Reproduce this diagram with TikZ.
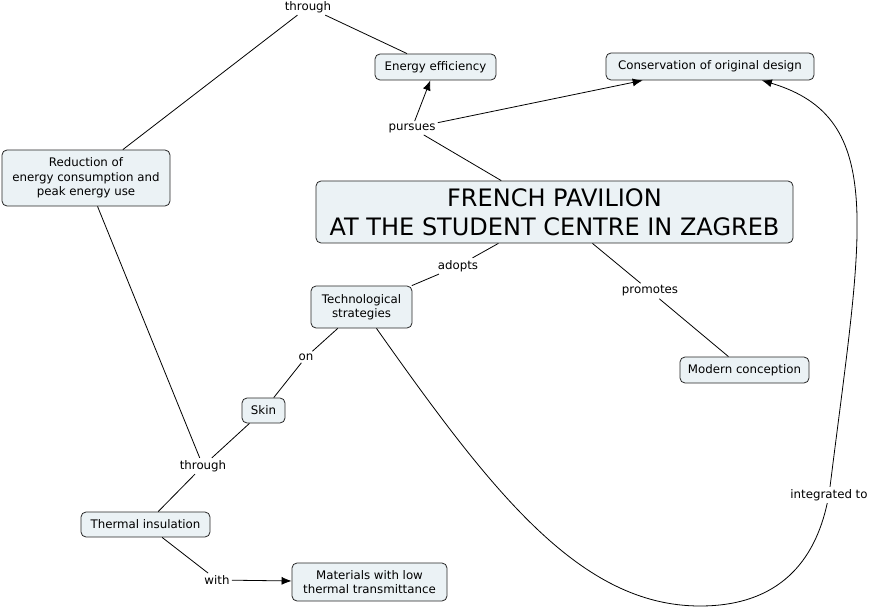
\documentclass[tikz,border=0pt]{standalone}
\usepackage{fontspec}
\setmainfont{DejaVu Sans}
\usepackage{xcolor}
\usetikzlibrary{arrows.meta}
\definecolor{boxfill}{RGB}{235,242,245}
\tikzset{
  concept/.style={draw=black!85,fill=boxfill,rounded corners=5pt,align=center,
    font=\fontsize{11.8}{14.5}\selectfont,inner sep=3pt},
  link/.style={font=\fontsize{11.8}{13}\selectfont,inner sep=2pt},
  title/.style={concept,font=\fontsize{24}{29}\selectfont}
}

\begin{document}
\begin{tikzpicture}[x=1pt,y=-1pt,>={Latex[length=10pt,width=8pt]},line width=0.8pt]
\useasboundingbox (0,0) rectangle (871,607);
\node[title,minimum width=477pt,minimum height=62pt] (pav) at (554.5,212) {FRENCH PAVILION\\AT THE STUDENT CENTRE IN ZAGREB};
\node[concept,minimum width=121pt,minimum height=26pt] (eff) at (435.5,67) {Energy efficiency};
\node[concept,minimum width=208pt,minimum height=27pt] (cons) at (710,66.5) {Conservation of original design};
\node[concept,minimum width=168pt,minimum height=56pt] (red) at (86,178) {Reduction of\\energy consumption and\\peak energy use};
\node[concept,minimum width=101pt,minimum height=42pt] (tech) at (361.5,307) {Technological\\strategies};
\node[concept,minimum width=129pt,minimum height=26pt] (mod) at (744.5,370) {Modern conception};
\node[concept,minimum width=43pt,minimum height=25pt] (skin) at (263.5,410.5) {Skin};
\node[concept,minimum width=129pt,minimum height=25pt] (therm) at (145.5,524.5) {Thermal insulation};
\node[concept,minimum width=155pt,minimum height=38pt] (mat) at (369.5,582) {Materials with low\\thermal transmittance};
% linking phrases
\node[link] (thr1) at (308,7) {through};
\node[link] (pur) at (412,128) {pursues};
\node[link] (ado) at (458,266) {adopts};
\node[link] (pro) at (650,291) {promotes};
\node[link] (on) at (306,357) {on};
\node[link] (thr2) at (203,466) {through};
\node[link] (with) at (217,580) {with};
\node[link] (integ) at (829,495) {integrated to};
\draw (red) -- (thr1); \draw (thr1) -- (eff);
\draw (pav) -- (pur); \draw[->] (pur) -- (eff); \draw[->] (pur) -- (cons);
\draw (pav) -- (ado); \draw (ado) -- (tech);
\draw (pav) -- (pro); \draw (pro) -- (mod);
\draw (tech) -- (on); \draw (on) -- (skin);
\draw (skin) -- (thr2); \draw (red) -- (thr2); \draw (thr2) -- (therm);
\draw (therm) -- (with); \draw[->] (with) -- (mat);
\draw (tech.-55) .. controls (492,492) and (580,606) .. (700,606) .. controls (780,606) and (815,560) .. (integ);
\draw[->] (integ) .. controls (862,230) and (888,118) .. (cons.-15);
\end{tikzpicture}
\end{document}
